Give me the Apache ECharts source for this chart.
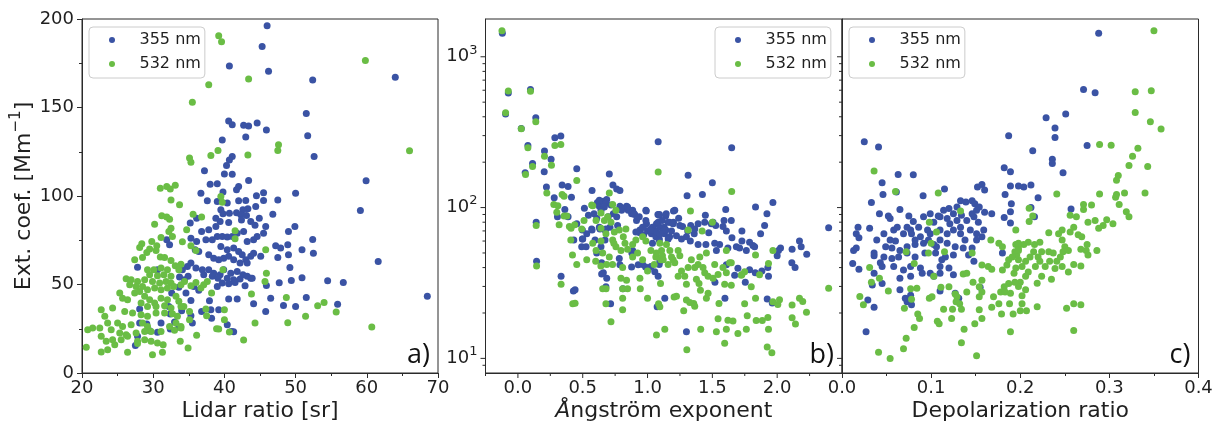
<!DOCTYPE html>
<html><head><meta charset="utf-8">
<script src="https://cdn.jsdelivr.net/npm/echarts@6/dist/echarts.min.js"></script>
<style>html,body{margin:0;padding:0;background:#fff;}#chart{width:1214px;height:426px;}</style>
</head><body><div id="chart"></div>
<script>
// ---------------- data ----------------
const seriesNames = ['355 nm', '532 nm'];
const panelLabels = ['a)', 'b)', 'c)'];
const xTicksA = [20, 30, 40, 50, 60, 70];
const yTicksA = [0, 50, 100, 150, 200];
const xMajorB = [0, 0.5, 1.0, 1.5, 2.0];
const xMinorB = [-0.25, 0.25, 0.75, 1.25, 1.75, 2.25];
const xTicksC = [0, 0.1, 0.2, 0.3, 0.4];
const logMajor = [10, 100, 1000];
const logMinor = [9, 20, 30, 40, 50, 60, 70, 80, 90, 200, 300, 400, 500, 600, 700, 800, 900];

// Panel a: lidar ratio [sr] vs ext. coef. [Mm-1]
const a355 = [[46,196.2],[45.3,184.4],[40.7,173.5],[46.2,170.5],[52.4,165.6],[64,167.1],[51.5,146.6],[40.6,142.4],[41.1,140.2],[42.7,140],[43.4,139.6],[44.6,141.3],[45.9,137.3],[51.7,134.1],[43,133.4],[39.7,131.7],[52.6,122.3],[41.1,122.3],[40.7,120.4],[59.9,108.6],[59.1,91.8],[61.6,63],[54.5,52.1],[56.7,51.2],[68.5,43.3],[55.9,38.9],[52.4,75.4],[52.5,67.7],
[40.3,117.2],[37.2,114.2],[40,112.5],[41.1,112.3],[43.4,108.7],[38,106.7],[39,106.9],[42,105.4],[41.7,103.5],[50,101.6],[36.7,101.6],[39.8,102.2],[45.5,101.8],[44.5,100.1],[37.6,97.3],[39,96.9],[42,97.3],[43,97.5],[45.5,97.5],[47.5,97.8],[44.4,94.1],[40.4,96],[39.5,92.2],[43.3,92.8],[42.6,92.2],[39.8,90],[40.7,90.2],[41.7,90.6],[42.3,89.4],[43.1,89],[46.8,89.7],[36.1,87.5],[35.2,84.7],[38.8,87.5],[39.4,85.6],[40.6,85],[42.4,86.5],[43.7,85.6],[44.3,83.5],[44.9,87.5],[45.8,82.8],[45.5,79],[49,80],[49.9,82.8],[38.8,82.8],[37.8,80.9],[36.8,80],[37.4,75.3],[38.3,75.3],[39,77.1],[39.7,77.1],[40.4,76.8],[41.1,77.1],[41.8,79],[42.7,80],[43.2,74.3],[44.1,75.3],[44.6,77.1],[35.3,76.2],[36.1,74.3],[36.4,68.7],[35.9,69.6],[39.5,71.5],[40.4,69.6],[41.3,70.6],[42,68.7],[42.5,66.8],[43,64],[43.7,65.9],[44.1,67.7],[45.1,65.9],[37.8,66.8],[38.5,64.9],[39.2,64],[39.9,64.9],[40.6,65.9],[41.3,64],[42.2,62.1],[43.2,62.1],[47.2,71.9],[47.9,70.6],[48.9,72.4],[50.9,69.6],[47.5,65.3],[49,66.8],[34.8,60.2],[35.3,62.1],[36,59.3],[36.9,58.3],[37.8,58.3],[38.5,56.4],[39.4,55.5],[39.9,58.3],[40.9,56.4],[41.8,57.4],[42.6,55.5],[43.7,53.6],[37.1,55.5],[38.3,54.6],[39.1,53.6],[40.4,53.6],[41.3,52.7],[42.2,53.1],[43.2,54.6],[43.9,53.6],[49.2,59.6],[49.4,52.3],[50.9,53.8],[47.7,51],[45.9,49.5],[34.1,58.3],[34.4,52.7],[34.9,54.6],[33.7,54.2],[39,48.9],[39.7,50.8],[40.6,50.4],[41.5,51.2],[42.9,49.3],[46.5,42.3],[48.3,38.2],[50,37.6],[51.5,42.7],[45.8,34.8],[44.1,39.1],[41.8,41.8],[40.6,41.8],[33.6,48.4],[34.6,45.2],[35.3,41],[36.4,46.8],[35.7,48.9],[37.9,40.8],[38.1,35.7],[39.2,35.7],[32.6,45.2],[32.2,37.6],[32.4,33.3],[34,35.2],[35.3,32.4],[31.1,28.2],[30.6,23],[29.5,23.9],[28.1,28.2],[27.8,20.7],[27.5,15.6],[33,28.8],[32.4,24.8],[33.6,26],[35.5,28.2],[40.4,27.3],[41,23.5],[41.3,23.3],[31.9,75.3],[32.3,72.4],[27.8,59.8],[30.6,58.3],[28.1,36.1],[29.1,27.7],[38.2,30.9],[36.8,34.8]];

const a532 = [[39.2,190.6],[39.6,187.2],[59.8,176.5],[43.4,166.1],[37.8,162.9],[35.5,153],[47.6,128.9],[47.5,125.7],[66,125.5],[39.1,125.7],[38.1,122.9],[43.3,123.2],[35.1,121.5],[35.3,119.1],[53.1,38],[54,39.9],[55.7,34.4],[60.7,26],[51.4,32],[48.9,28.4],[48.7,42.7],[44.3,28.2],[42.7,18.6],[40.7,23.1],[38.9,25],[39.2,24.8],[40,30.1],[40,35.7],[45.7,51.7],[45.9,56.4],
[31,104.4],[31.9,105.4],[32.4,104],[33.1,106.1],[32.5,97.8],[33.7,95],[39.5,99.7],[39.7,96.5],[31.2,88.8],[31.9,88.1],[32.3,86.9],[35.6,89.7],[36.8,88.1],[30.2,84.1],[32.5,81.8],[32.2,80],[31.1,76.6],[29.8,74.3],[30.5,71.9],[32.7,77.1],[34.1,74.1],[34.7,80.9],[35.3,71.9],[36,69.2],[28.4,73],[28.1,70.9],[29.5,70],[29.1,68.1],[30.4,69.2],[31,65.5],[31.6,65.3],[27.4,64],[28.5,65.3],[32.5,63.6],[33.9,61.5],[33.1,60.6],[33.6,58.3],[41.5,80.3],[41.5,75.8],[45.8,69.6],[39.8,58.3],
[29.2,58.3],[30.1,58.3],[31.1,59.3],[32,58.3],[29.5,55.5],[30.6,54.9],[31.5,55.5],[32.5,54.6],[28.8,52.7],[29.9,51.7],[30.9,50.8],[31.8,51.7],[32.5,50.8],[26.2,53.3],[26.9,52.7],[27.8,51.7],[26.7,49.9],[27.6,48.9],[28.5,48.9],[29.2,47],[30.2,48],[31.1,47],[32,48],[32.9,48.9],
[33.9,49.9],[34.4,51.7],[35.3,49.3],[36,51.2],[36.7,48],[37.1,49.9],[37.6,51.7],[38.2,45.2],
[25.3,45.2],[25.7,42.3],[26.4,41.4],[27.4,45.2],[28.1,46.1],[28.8,43.3],[29.5,41.4],[30.2,39.5],[31.1,42.3],[32,41.4],[33.2,43.3],[33.6,40.5],[34.3,37.6],
[28.3,39.5],[29.2,37.6],[30.4,37.6],[31.6,38],[32.5,36.7],[33.9,37.6],
[24.3,36.7],[22.7,35.7],[23.2,32],[26,34.8],[27.1,33.9],[28.3,32.9],[29.2,32],[30.4,33.9],[31.6,33.9],[32.7,33.5],[33.4,32],[35.1,34.8],
[37.4,36.1],[37.5,32.4],[35.1,30.1],
[23.6,28.2],[25,28.2],[25.7,26.3],[26.9,27.3],[28.5,28.2],[29.2,26.3],[29.7,23.5],[31.1,23.5],[32.3,26.3],[33.2,28.2],[33.9,26.3],
[20.8,24.5],[21.5,25.4],[22.5,25.4],[24.1,24.5],[25.3,22.6],[26.2,21.6],[27.6,22.6],[28.8,23.5],[33,24.1],[33.9,25.4],
[22.7,20.7],[23.4,17.9],[24.3,18.8],[24.6,16],[25.5,18.8],[26.4,20.7],[27.8,17.9],[28.8,18.8],[29.7,17.9],[30.6,16.9],[31.4,16],
[20.6,14.5],[22.7,11.9],[23.6,13.2],[26.4,11.7],[27.8,16.6],[29.9,10.3],[31.3,11.7],[33.8,17.9],[34.9,14.1],[36.1,21.3],[43.8,44.6]];

// Panel b: Angstrom exponent vs ext. coef. (log)
const b355 = [[-0.12,1430],[-0.095,417],[-0.074,574],[0.097,607],[0.026,335],[0.138,394],[0.077,258],[0.056,170],[0.113,196],[0.205,237],[0.203,173],[0.22,137],[0.256,209],[0.285,290],[0.331,298],[0.141,80],[0.144,44],[0.333,35],[0.428,28],[0.441,28.5],[0.28,116],[0.341,141],[0.387,138],[0.413,117],[0.454,181],[0.305,87],[0.362,97],[0.387,87],[0.454,78],[0.431,61],[0.497,62],[0.492,55],[0.513,99],[0.544,89],[0.572,130],[0.613,108],[0.628,102],[0.659,110],[0.685,113],[0.705,167],[0.733,141],[0.762,133],[0.787,130],
[0.587,91],[0.608,85],[0.633,72],[0.672,71],[0.697,87],[0.71,74],[0.736,91],[0.762,87],[0.787,102],[0.8,96],[0.838,102],[0.851,96],[0.877,91],[0.497,71],[0.531,67],[0.569,72],[0.595,61],[0.608,50],[0.646,43],[0.659,37],[0.685,34],[0.715,23],
[0.885,96],[0.915,82],[0.941,71],[0.967,74],[0.992,78],[1.018,71],[1.044,74],[1.069,78],[1.095,74],[1.121,71],
[0.9,90],[0.941,68],[0.97,66],[1.0,70],[1.03,67],[1.055,70],[1.09,62],[1.13,67],[1.17,64],
[0.99,95],[1.08,90],[1.14,88],[1.2,95],[1.17,80],[1.2,80],[1.24,85],[1.27,75],[1.31,70],[1.36,67],
[0.628,112],[0.679,107],[0.718,104],[0.667,101],[0.641,96],[0.808,99],[0.846,101],[0.897,91],[0.936,87],[0.987,96],[0.987,82],[1.038,74],[1.09,89],[1.128,74],[1.141,71],[0.572,71],[0.628,74],[0.679,72],[0.769,76],[0.91,69],[0.962,74],[1.026,71],[1.064,64],[0.5,62],[0.526,55],[0.641,55],[0.885,52],[1.038,58],[1.09,61],[0.782,46],[0.879,50],[0.962,42],[1.026,40.6],[1.09,42],
[1.092,90],[1.144,91],[1.21,96],[1.082,80],[1.113,82],[1.159,80],[1.197,78],[1.249,76],[1.128,71],[1.185,70],[1.069,69],[1.095,67],[1.159,62],[1.223,65],[1.262,62],[1.3,64],[1.364,72],[1.39,78],[1.333,76],[1.446,89],[1.441,80],[1.492,78],[1.472,68],[1.526,76],[1.582,75],[1.608,70],[1.59,82],[1.603,97],[1.646,82],[1.728,70],[1.651,63],[1.685,55],[1.728,60],[1.787,59],[1.813,56],[1.826,55],[1.762,52],[1.903,76],[1.872,67],[1.833,101],[1.921,91],[1.967,108],[2.026,54],[2.01,52],[2.0,48],[2.115,53],[2.172,60],[2.185,55],[2.228,49],[2.113,43],[2.138,40],[1.933,35],[1.928,40],[1.882,38],[1.831,37],[1.133,25],[1.3,15],[1.754,32],[1.597,25],[1.52,32],[1.082,35],[1.095,44],
[1.082,273],[1.313,164],[1.305,120],[1.423,122],[1.5,146],[1.649,249],[1.505,80],[1.62,54],[1.556,57],[1.531,52],[1.518,58],[1.45,57],[1.39,57],[1.33,60],[1.71,54],[2.397,73.5],[1.923,24.8],[1.962,23.3],[1.787,38.7],[1.697,39.6],[1.672,35.6],[1.608,41.7],[1.074,22],[1.056,37.5],[0.985,40.4],[1.005,38.8],[0.877,40.4],[0.928,41.7],[0.81,29],[0.787,41.7],[0.672,61],[0.646,36.3],[0.679,29.8]];

const b532 = [[-0.123,1487],[-0.095,425],[-0.074,592],[0.097,591],[0.026,333],[0.138,371],[0.077,249],[0.059,166],[0.113,187],[0.205,219],[0.223,125],[0.259,191],[0.285,258],[0.331,262],[0.141,76],[0.144,41],[0.333,31],[0.423,23],[0.441,23.2],[0.277,105],[0.341,122],[0.356,119],[0.318,77],[0.356,88],[0.377,88],[0.397,75],[0.408,61],[0.421,48.4],[0.454,151],[0.454,42],[0.51,82],[0.531,45],[0.569,104],[0.705,125],[0.731,105],[0.756,96],
[0.308,103],[0.3,93],[0.41,73],[0.438,77],[0.577,103],[0.492,72],[0.641,92],[0.692,87],[0.667,82],[0.718,80],[0.603,82],[0.641,73],[0.679,67],[0.744,69],[0.782,71],[0.833,72],[0.813,64],[0.731,61],[0.641,60],[0.577,58],[0.603,52],[0.654,50],[0.705,47],[0.756,55],[0.795,52],[0.846,53],[0.885,57],[0.91,61],[0.962,64],[0.987,60],[1.026,52],[1.064,47],[1.115,48],[1.103,45],[1.051,42],[1.0,38],[0.962,45],[0.923,50],[0.885,47],[0.685,42],[0.73,42],[0.808,40],[0.795,34],[0.808,29],[0.846,29],[0.68,29],[0.654,29],[0.718,17.5],[0.679,23],[1.069,14.3],[1.085,23],[1.0,25],[0.944,29],[0.808,25],[0.808,21],[0.6,44],[0.64,41],[0.74,58],[0.826,58],
[0.838,33],[0.941,34],[1.082,172],[1.1,31.4],[1.133,15.6],[1.223,25.8],[1.279,20.7],[1.3,24.4],[1.356,23.1],[1.364,22.2],[1.303,11.4],[1.331,95],[1.313,71],[1.421,70],[1.5,80],[1.649,128],[1.397,31.4],[1.408,28.3],[1.377,33.5],[1.41,15.6],[1.454,25],[1.467,27],[1.531,15],[1.544,18.3],[1.551,23.1],[1.595,12.6],[1.608,15.6],[1.62,17.9],[1.659,17.7],[1.697,14.6],[1.608,52],[1.646,43],[1.723,35.6],[1.749,37.5],[1.749,23],[1.8,29.8],[1.833,25],[1.762,15.6],[1.769,19.2],[1.833,48.4],[1.864,35.9],[1.838,17.8],[1.885,17.8],[1.933,42.5],[1.928,18.7],[1.923,11.9],[1.959,10.9],[1.933,15.6],[1.967,52],[1.967,23.7],[2.005,22.8],[2.018,24.5],[2.115,22.6],[2.115,18.6],[2.141,16.9],[2.172,25],[2.197,23.8],[2.226,20.2],[2.397,29.2],
[1.095,58],[1.146,57],[1.108,52],[1.069,50],[1.172,52],[1.185,47],[1.121,45],[1.159,42],[1.197,45],[1.236,52],[1.249,48],[1.21,43],[1.262,38],[1.236,35],[1.3,31],[1.287,35],[1.364,40],[1.338,45],[1.39,42],[1.428,40],[1.441,37],[1.467,35],[1.505,34],[1.544,36],[1.582,40],[1.608,37],[1.633,43],[1.518,42],[1.454,50],[1.403,47],[1.313,40],[1.595,31],[1.646,30.5],[1.728,36],[1.095,22],[1.205,25.5],[1.326,23.5]];

// Panel c: depolarization ratio vs ext. coef. (log)
const c355 = [[0.288,1430],[0.271,607],[0.284,577],[0.229,394],[0.251,417],[0.239,337],[0.239,292],[0.187,299],[0.214,238],[0.275,258],[0.236,209],[0.236,196],[0.248,170],[0.182,184],[0.189,173],[0.025,273],[0.041,252],[0.063,166],[0.08,165],[0.045,146],[0.189,139],[0.198,139],[0.204,137],[0.212,141],[0.22,116],[0.152,137],[0.157,142],[0.16,131],[0.183,122],[0.046,122],[0.091,120],[0.115,133],[0.033,108],[0.061,127],[0.257,98],[0.212,100],[0.216,87],[0.189,94],[0.19,106],[0.182,86],[0.189,79],[0.16,93],[0.168,91],[0.133,111],[0.139,109],[0.146,111],[0.149,106],[0.154,101],
[0.018,74],[0.016,67],[0.019,63],[0.031,73],[0.013,52],[0.016,54],[0.036,48],[0.019,39],[0.012,42.5],
[0.042,91],[0.052,88],[0.054,84.5],[0.065,97],[0.075,88],[0.08,81],[0.077,71],[0.086,74],[0.096,71],[0.103,80],[0.108,88],[0.114,96],[0.12,98.5],[0.125,91],[0.129,101],[0.134,89],[0.14,82],[0.148,87],[0.153,80],[0.159,71],
[0.047,67],[0.058,71],[0.062,74],[0.069,67],[0.078,67],[0.088,64],[0.099,67],[0.11,71],[0.118,67],[0.125,71],[0.133,74],[0.144,71],[0.151,67],[0.157,64],
[0.039,61],[0.049,55],[0.056,54],[0.065,52],[0.073,55],[0.082,57],[0.0915,58],[0.103,57],[0.11,61],[0.118,58],[0.127,55],[0.136,54],[0.146,54],[0.151,61],
[0.036,50],[0.047,47],[0.056,46],[0.0635,47],[0.073,50],[0.082,47],[0.093,50],[0.105,50],[0.116,47],[0.125,48.5],[0.142,48.5],
[0.043,43],[0.058,40.6],[0.069,38.5],[0.077,40.6],[0.088,39.7],[0.099,36.7],[0.11,40.6],[0.12,39.7],[0.125,35.8],[0.148,44],
[0.036,36.7],[0.045,40.6],[0.065,34],[0.077,35],[0.09,36.7],[0.103,35],[0.11,36.7],
[0.034,30.7],[0.065,28.5],[0.077,26.2],[0.073,23.7],[0.078,22.7],[0.11,28],[0.127,27],[0.131,25],[0.155,29.6],[0.18,50],[0.029,24.4],[0.036,21.8],[0.027,15],[0.071,25],[0.045,31.4],
[0.0915,87],[0.099,91],[0.11,87],[0.118,84.5],[0.121,78],[0.129,82],[0.133,67],[0.138,61],[0.146,91],[0.151,96],[0.073,74],[0.082,61],[0.097,61],[0.106,55],[0.112,45],[0.054,61],[0.06,60]];

const c532 = [[0.35,1487],[0.329,586],[0.347,595],[0.329,427],[0.346,371],[0.358,332],[0.289,262],[0.302,259],[0.332,247],[0.326,219],[0.322,190],[0.343,187],[0.31,163],[0.308,152],[0.34,125],[0.317,125],[0.307,117],[0.308,122],[0.311,105],[0.319,94],[0.322,87],[0.289,123],[0.241,123],[0.28,104],[0.271,105],[0.271,97],[0.21,99],[0.214,88],[0.21,81],[0.036,175],[0.06,128],[0.108,125],[0.133,95],[0.098,80],[0.106,69],[0.1,58],[0.274,52],[0.286,52],[0.268,41],[0.26,42],
[0.256,89],[0.263,87],[0.276,80],[0.284,82],[0.297,83],[0.304,78],[0.293,76],[0.288,73],
[0.26,74],[0.265,66],[0.269,64],[0.256,69],[0.247,71],[0.243,67],[0.232,68],[0.222,59],[0.216,57],[0.209,59],[0.204,57],[0.198,54],[0.194,51],
[0.247,61],[0.25,55],[0.248,51],[0.254,52],[0.245,47],[0.241,44],[0.247,40.6],[0.254,37.4],[0.275,57],[0.276,48.5],[0.268,53],
[0.232,51],[0.237,50],[0.224,51],[0.22,47],[0.215,51],[0.211,47],[0.206,44],[0.202,40.6],[0.198,45],[0.196,48.5],[0.222,44],[0.228,40.6],[0.217,40.6],[0.209,37.4],[0.206,35],[0.2,32],[0.198,30],[0.206,28.5],[0.219,31.5],[0.224,35],[0.235,33.5],[0.233,44],[0.239,39.5],
[0.202,23],[0.2,20.7],[0.207,20.7],[0.219,22],[0.202,26],[0.252,21.5],[0.26,23],[0.268,22.7],[0.26,15.3],
[0.072,51],[0.097,50],[0.115,51],[0.081,42.5],[0.103,35],[0.031,40],[0.042,34],[0.052,28],[0.02,25.7],[0.024,22.7],[0.033,32],[0.077,29],[0.084,29.2],[0.078,24.7],[0.07,21.5],[0.085,19.7],[0.087,18.4],[0.081,16],[0.072,13.6],[0.069,11.6],[0.054,10],[0.041,11],[0.151,10.4],[0.134,12.7],[0.137,15.6],[0.123,18.4],[0.107,17.6],[0.109,17],[0.098,25],[0.101,25.6],[0.111,29.6],[0.12,29.8],[0.127,26.7],[0.129,25.6],[0.132,23],[0.128,23.7],[0.134,21.2],[0.114,21.2],[0.124,21.2],[0.14,27.6],[0.154,29.8],[0.157,27.6],[0.154,25.6],[0.149,17],[0.157,18.4],[0.154,21],[0.168,21.8],[0.179,19.7],[0.188,23],[0.192,19.7],[0.189,15],[0.147,32],[0.157,33],[0.136,36.3],[0.14,36.7],[0.157,41.6],[0.164,40.6],[0.168,39],[0.167,61],[0.176,58],[0.18,55],[0.146,50],[0.18,38.5],[0.185,41.6],[0.187,45],[0.191,47],[0.198,52],[0.193,36.7],[0.195,39.7],[0.194,32],[0.187,31.4],[0.182,29.8],[0.178,27.6],[0.17,25.6],[0.176,23],[0.183,27.6],[0.189,27],[0.195,57],[0.198,58],[0.195,71]];

// ---------------- chart ----------------
const BLUE = '#3a53a4', GREEN = '#6abd45';
const TXT = '#1f1f1f', SPINE = '#2b2b2b';
const FONT = 'DejaVu Sans';
const grids = [
  {left: 82, top: 19, width: 356, height: 354},
  {left: 485.5, top: 19, width: 356.5, height: 354},
  {left: 842, top: 19, width: 356.5, height: 354}
].map(g => Object.assign({show: true, borderColor: SPINE, borderWidth: 1, backgroundColor: 'transparent', outerBoundsMode: 'none', containLabel: false}, g));

function axisBase(extra) {
  return Object.assign({
    type: 'value',
    axisLine: {show: true, onZero: false, lineStyle: {color: SPINE, width: 1}},
    axisTick: {show: true, length: 5, inside: false, lineStyle: {color: SPINE, width: 1}},
    minorTick: {show: true, splitNumber: 2, length: 3, lineStyle: {color: SPINE, width: 1}},
    axisLabel: {fontSize: 18, color: TXT, fontFamily: FONT},
    splitLine: {show: false}, minorSplitLine: {show: false},
    nameLocation: 'middle', nameMoveOverlap: false,
    nameTextStyle: {fontSize: 22, color: TXT, fontFamily: FONT}
  }, extra);
}

const xAxis = [
  axisBase({gridIndex: 0, min: xTicksA[0], max: xTicksA[xTicksA.length-1], interval: 10,
    axisLabel: {fontSize: 18, color: TXT, fontFamily: FONT, margin: 6},
    name: 'Lidar ratio [sr]', nameGap: 27}),
  axisBase({gridIndex: 1, min: -0.25, max: 2.5, interval: 0.25,
    axisTick: {show: false}, minorTick: {show: false},
    axisLabel: {fontSize: 18, color: TXT, fontFamily: FONT, margin: 6,
      formatter: v => xMajorB.some(t => Math.abs(t - v) < 1e-9) ? v.toFixed(1) : ''},
    name: '{i|Å}ngström exponent', nameGap: 27,
    nameTextStyle: {fontSize: 22, color: TXT, fontFamily: FONT,
      rich: {i: {fontSize: 22, fontStyle: 'italic', color: TXT, fontFamily: FONT}}}}),
  axisBase({gridIndex: 2, min: xTicksC[0], max: xTicksC[xTicksC.length-1], interval: 0.1,
    axisLabel: {fontSize: 18, color: TXT, fontFamily: FONT, margin: 6, formatter: v => v.toFixed(1)},
    name: 'Depolarization ratio', nameGap: 27})
];

const logLabel = {
  show: true, margin: 8,
  formatter: v => { const e = Math.log10(v), r = Math.round(e); return Math.abs(e - r) < 1e-6 ? '{b|10}{s|' + r + '}' : ''; },
  rich: {
    b: {fontSize: 18, lineHeight: 26, color: TXT, fontFamily: FONT},
    s: {fontSize: 13, lineHeight: 13, verticalAlign: 'top', color: TXT, fontFamily: FONT}
  }
};

const yAxis = [
  axisBase({gridIndex: 0, min: yTicksA[0], max: yTicksA[yTicksA.length-1], interval: 50,
    axisLabel: {fontSize: 18, color: TXT, fontFamily: FONT, margin: 8},
    name: 'Ext. coef. [Mm{s|−1}]', nameGap: 43, nameRotate: 90,
    nameTextStyle: {fontSize: 22, color: TXT, fontFamily: FONT, lineHeight: 30,
      rich: {s: {fontSize: 15, lineHeight: 15, verticalAlign: 'top', color: TXT, fontFamily: FONT}}}}),
  axisBase({gridIndex: 1, type: 'log', logBase: 10, min: 8, max: 1780,
    axisTick: {show: false}, minorTick: {show: false}, axisLabel: logLabel}),
  axisBase({gridIndex: 2, type: 'log', logBase: 10, min: 8, max: 1780,
    axisTick: {show: false}, minorTick: {show: false}, axisLabel: {show: false}})
];

function sc(name, data, idx, color) {
  return {name, type: 'scatter', xAxisIndex: idx, yAxisIndex: idx, data,
    symbol: 'circle', symbolSize: 7, itemStyle: {color, opacity: 1},
    emphasis: {disabled: true}, silent: true, animation: false, clip: true};
}
const series = [
  sc(seriesNames[0], a355, 0, BLUE), sc(seriesNames[1], a532, 0, GREEN),
  sc(seriesNames[0], b355, 1, BLUE), sc(seriesNames[1], b532, 1, GREEN),
  sc(seriesNames[0], c355, 2, BLUE), sc(seriesNames[1], c532, 2, GREEN)
];

function leg(left) {
  return {left, top: 27, orient: 'vertical', data: seriesNames, icon: 'circle',
    itemWidth: 27, itemHeight: 6, itemGap: 8, padding: [5, 4, 6, 20],
    backgroundColor: '#ffffff', borderColor: '#cccccc', borderWidth: 1, borderRadius: 4,
    selectedMode: false, z: 10,
    textStyle: {fontSize: 16, color: TXT, fontFamily: FONT, lineHeight: 16, padding: [0, 0, 0, 9]}};
}

const chart = echarts.init(document.getElementById('chart'), null, {renderer: 'canvas', width: 1214, height: 426});
chart.setOption({
  backgroundColor: '#ffffff', animation: false,
  textStyle: {fontFamily: FONT},
  grid: grids, xAxis, yAxis, series,
  legend: [leg(89), leg(715), leg(849)]
});

// extra ticks (log minor/major, panel b x ticks) and panel labels
const g = [];
function line(x1, y1, x2, y2) {
  g.push({type: 'line', silent: true, z: 5, shape: {x1, y1, x2, y2}, style: {stroke: SPINE, lineWidth: 1}});
}
[1, 2].forEach(i => {
  const x0 = chart.convertToPixel({xAxisIndex: i}, i === 1 ? -0.25 : 0);
  logMajor.forEach(v => { const y = chart.convertToPixel({yAxisIndex: i}, v); line(x0 - 5, y, x0, y); });
  logMinor.forEach(v => { const y = chart.convertToPixel({yAxisIndex: i}, v); line(x0 - 3, y, x0, y); });
});
const yb = chart.convertToPixel({yAxisIndex: 1}, 8);
xMajorB.forEach(v => { const x = chart.convertToPixel({xAxisIndex: 1}, v); line(x, yb, x, yb + 5); });
xMinorB.forEach(v => { const x = chart.convertToPixel({xAxisIndex: 1}, v); line(x, yb, x, yb + 3); });

const rights = [
  chart.convertToPixel({xAxisIndex: 0}, 70),
  chart.convertToPixel({xAxisIndex: 1}, 2.5),
  chart.convertToPixel({xAxisIndex: 2}, 0.4)
];
panelLabels.forEach((t, i) => {
  g.push({type: 'text', silent: true, z: 6, x: rights[i] - 8, y: yb - 4,
    style: {text: t, fontSize: 27, fontFamily: 'Open Sans', fill: '#111',
      align: 'right', textAlign: 'right', verticalAlign: 'bottom', textVerticalAlign: 'bottom'}});
});
chart.setOption({graphic: g});
</script>
</body></html>
